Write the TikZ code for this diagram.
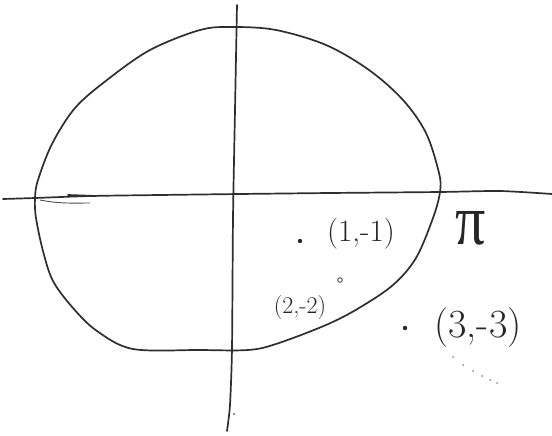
\documentclass[tikz,border=0pt]{standalone}
\usepackage{fontspec}
\newfontfamily\pifont{Liberation Serif}
\begin{document}
\begin{tikzpicture}[x=1pt,y=-1pt,
  pen/.style={draw=black!82,line width=1.7pt,line cap=round,line join=round},
  thinpen/.style={draw=black!70,line width=0.9pt,line cap=round},
  lbl/.style={inner sep=0pt,text=black!85},
  ptdot/.style={fill=black!85,draw=none}]
\useasboundingbox (0,0) rectangle (552,436);
% axes
\draw[pen] plot[smooth,tension=0.4] coordinates {(3,199) (35,198) (90,196) (160,195) (240,194) (330,193) (440,192) (500,191) (552,194)};
\draw[pen] plot[smooth,tension=0.4] coordinates {(237,5) (235,110) (233,218) (232,348) (230,405) (227,431)};
\draw[thinpen] (40,200) .. controls (60,204) and (75,203) .. (90,203);
\draw[pen] (68,195) -- (96,196);
% closed curve
\draw[pen] plot[smooth cycle,tension=0.55] coordinates {
 (233,27) (276,30) (326,45) (369,70) (403,100) (426,133) (439,173) (440,192)
 (433,218) (416,258) (393,285) (359,308) (326,325) (276,344) (248,350)
 (200,350) (133,349) (97,331) (73,308) (53,281) (43,251) (36,218) (35,198)
 (38,180) (52,144) (75,108) (107,80) (150,50) (200,30)};
% points and labels
\fill[ptdot] (300,241) circle (2.2);
\node[lbl,font=\fontsize{31}{31}\selectfont] (p1) at (361,234) {(1,-1)};
\draw[thinpen] (340,280) circle (2.3);
\node[lbl,font=\fontsize{24}{24}\selectfont] (p2) at (300,308) {(2,-2)};
\fill[ptdot] (405,328) circle (2.2);
\node[lbl,font=\fontsize{40}{40}\selectfont] (p3) at (478,328) {(3,-3)};
\node[lbl,font=\pifont\fontsize{40}{40}\selectfont] (pl) at (471,228) {\scalebox{1.5}[1.8]{π}};
% faint dots
\foreach \p in {(453,357),(463,365),(473,371),(482,376),(490,380),(497,383)}
  \fill[black!45] \p circle (1);
\fill[black!60] (234,414) circle (1.1);
\end{tikzpicture}
\end{document}
